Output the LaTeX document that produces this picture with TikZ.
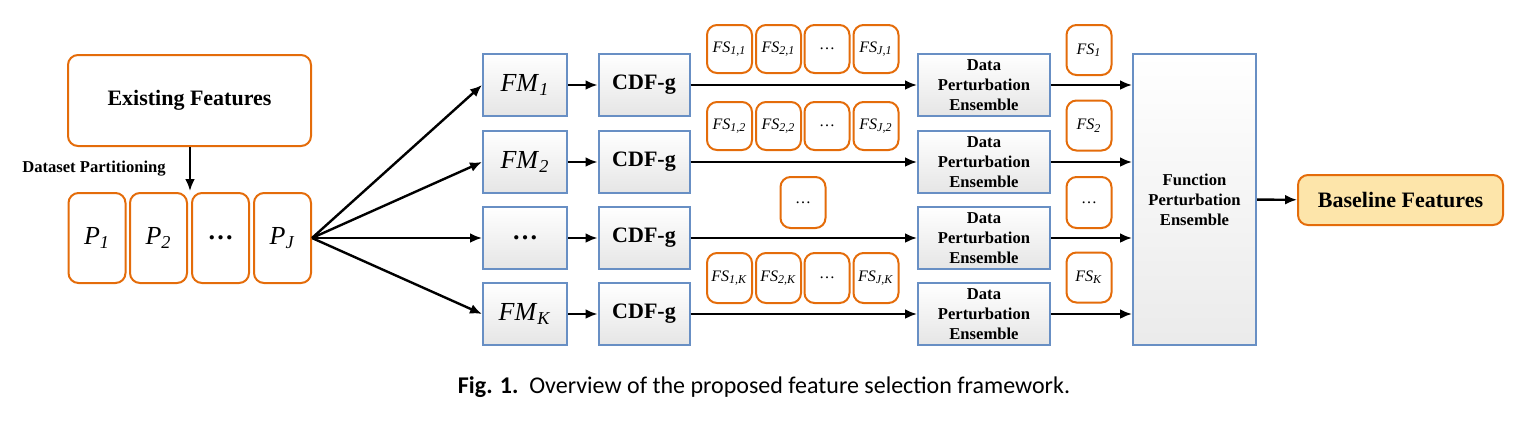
\documentclass[tikz,border=0pt]{standalone}
\usepackage{fontspec}
\setmainfont{Liberation Serif}
\newfontfamily\capfont{Carlito}
\usetikzlibrary{arrows.meta}
\definecolor{boxorange}{RGB}{228,108,10}
\definecolor{boxblue}{RGB}{104,143,196}
\definecolor{bffill}{RGB}{253,229,170}
\newcommand{\fsub}[2]{\textit{#1}\textsubscript{\textit{#2}}}
\begin{document}
\begin{tikzpicture}[x=0.5pt,y=-0.5pt]
            \tikzstyle{every node}=[inner sep=0pt,align=center]
            \tikzstyle{obox}=[draw=boxorange,line width=1pt,rounded corners=5pt,fill=white]
            \tikzstyle{bbox}=[draw=boxblue,line width=1pt,top color=white,bottom color=black!10]
            \tikzstyle{fsbox}=[obox,minimum width=22.5pt,minimum height=24pt,font=\fontsize{8}{9}\selectfont]
            \tikzstyle{pbox}=[obox,minimum width=28.5pt,minimum height=45pt,font=\fontsize{13}{15}\selectfont]
            \tikzstyle{fmbox}=[bbox,minimum width=42pt,minimum height=31pt,font=\fontsize{13}{15}\selectfont]
            \tikzstyle{cdfbox}=[bbox,minimum width=45.5pt,minimum height=31pt,font=\fontsize{11}{13}\selectfont\bfseries]
            \tikzstyle{dpebox}=[bbox,minimum width=66pt,minimum height=31pt,font=\fontsize{8.3}{10}\selectfont\bfseries]
            \tikzstyle{arr}=[-{Latex[length=6pt,width=5pt]},line width=1.2pt]
            \useasboundingbox (0,0) rectangle (1536,424);
            % input side
            \draw (189.5,100.5) node [obox,minimum width=121.5pt,minimum height=45.5pt,font=\fontsize{11}{13}\selectfont\bfseries] (ef) {Existing Features};
            \draw (97,238) node [pbox] (p1) {\fsub{P}{1}};
            \draw (158.5,238) node [pbox] (p2) {\fsub{P}{2}};
            \draw (220.5,238) node [pbox,font=\fontsize{13}{15}\selectfont\bfseries] (pd) {\dots};
            \draw (282.5,238) node [pbox] (pj) {\fsub{P}{J}};
            \coordinate (split) at (190,191);
            \draw[arr] (ef.south -| split) -- (split);
            \draw (94,169) node [font=\fontsize{8.3}{10}\selectfont\bfseries] (dp) {Dataset Partitioning};
            % feature models
            \draw (525,85) node [fmbox] (fm1) {\fsub{FM}{1}};
            \draw (525,162) node [fmbox] (fm2) {\fsub{FM}{2}};
            \draw (525,238) node [fmbox,font=\fontsize{13}{15}\selectfont\bfseries] (fmd) {\dots};
            \draw (525,314) node [fmbox] (fmk) {\fsub{FM}{K}};
            \draw (644,85) node [cdfbox] (c1) {CDF-g};
            \draw (644,162) node [cdfbox] (c2) {CDF-g};
            \draw (644,238) node [cdfbox] (cd) {CDF-g};
            \draw (644,314) node [cdfbox] (ck) {CDF-g};
            \draw (984,85) node [dpebox] (d1) {Data\\Perturbation\\Ensemble};
            \draw (984,162) node [dpebox] (d2) {Data\\Perturbation\\Ensemble};
            \draw (984,238) node [dpebox] (dd) {Data\\Perturbation\\Ensemble};
            \draw (984,314) node [dpebox] (dk) {Data\\Perturbation\\Ensemble};
            \draw (1194.5,199.5) node [bbox,minimum width=61.5pt,minimum height=145.5pt,font=\fontsize{8.3}{10}\selectfont\bfseries,top color=white,bottom color=black!8] (fpe) {Function\\Perturbation\\Ensemble};
            \draw (1400.5,200) node [obox,fill=bffill,minimum width=102.5pt,minimum height=25pt,font=\fontsize{11}{13}\selectfont\bfseries] (bf) {Baseline Features};
            % feature subsets
            \draw (729.5,49) node [fsbox] (fs11) {\fsub{FS}{1,1}};
            \draw (778.5,49) node [fsbox] (fs21) {\fsub{FS}{2,1}};
            \draw (827,49) node [fsbox] (fsd1) {\dots};
            \draw (876,49) node [fsbox] (fsj1) {\fsub{FS}{J,1}};
            \draw (729.5,126) node [fsbox] (fs12) {\fsub{FS}{1,2}};
            \draw (778.5,126) node [fsbox] (fs22) {\fsub{FS}{2,2}};
            \draw (827,126) node [fsbox] (fsd2) {\dots};
            \draw (876,126) node [fsbox] (fsj2) {\fsub{FS}{J,2}};
            \draw (803,202.5) node [fsbox,minimum height=25.5pt] (fsdd) {\dots};
            \draw (729.5,278) node [fsbox,minimum height=25pt] (fs1k) {\fsub{FS}{1,K}};
            \draw (778.5,278) node [fsbox,minimum height=25pt] (fs2k) {\fsub{FS}{2,K}};
            \draw (827,278) node [fsbox,minimum height=25pt] (fsdk) {\dots};
            \draw (876,278) node [fsbox,minimum height=25pt] (fsjk) {\fsub{FS}{J,K}};
            \draw (1089,50) node [fsbox,minimum height=25pt] (fs1) {\fsub{FS}{1}};
            \draw (1089,125.5) node [fsbox,minimum height=25pt] (fs2) {\fsub{FS}{2}};
            \draw (1089,202.5) node [fsbox,minimum height=25.5pt] (fsd) {\dots};
            \draw (1089,277.5) node [fsbox,minimum height=25pt] (fsk) {\fsub{FS}{K}};
            % connectors
            \draw[arr] (pj.east) -- (fm1.west);
            \draw[arr] (pj.east) -- (fm2.west);
            \draw[arr] (pj.east) -- (fmd.west);
            \draw[arr] (pj.east) -- (fmk.west);
            \draw[arr] (fm1) -- (c1);
            \draw[arr] (fm2) -- (c2);
            \draw[arr] (fmd) -- (cd);
            \draw[arr] (fmk) -- (ck);
            \draw[arr] (c1) -- (d1);
            \draw[arr] (c2) -- (d2);
            \draw[arr] (cd) -- (dd);
            \draw[arr] (ck) -- (dk);
            \draw[arr] (d1) -- (d1 -| fpe.west);
            \draw[arr] (d2) -- (d2 -| fpe.west);
            \draw[arr] (dd) -- (dd -| fpe.west);
            \draw[arr] (dk) -- (dk -| fpe.west);
            \draw[arr] (fpe) -- (bf);
            \draw (764,387) node [font=\capfont\fontsize{12}{14}\selectfont] (cap) {\textbf{Fig. 1.}\ \ Overview of the proposed feature selection framework.};
        \end{tikzpicture}
\end{document}
